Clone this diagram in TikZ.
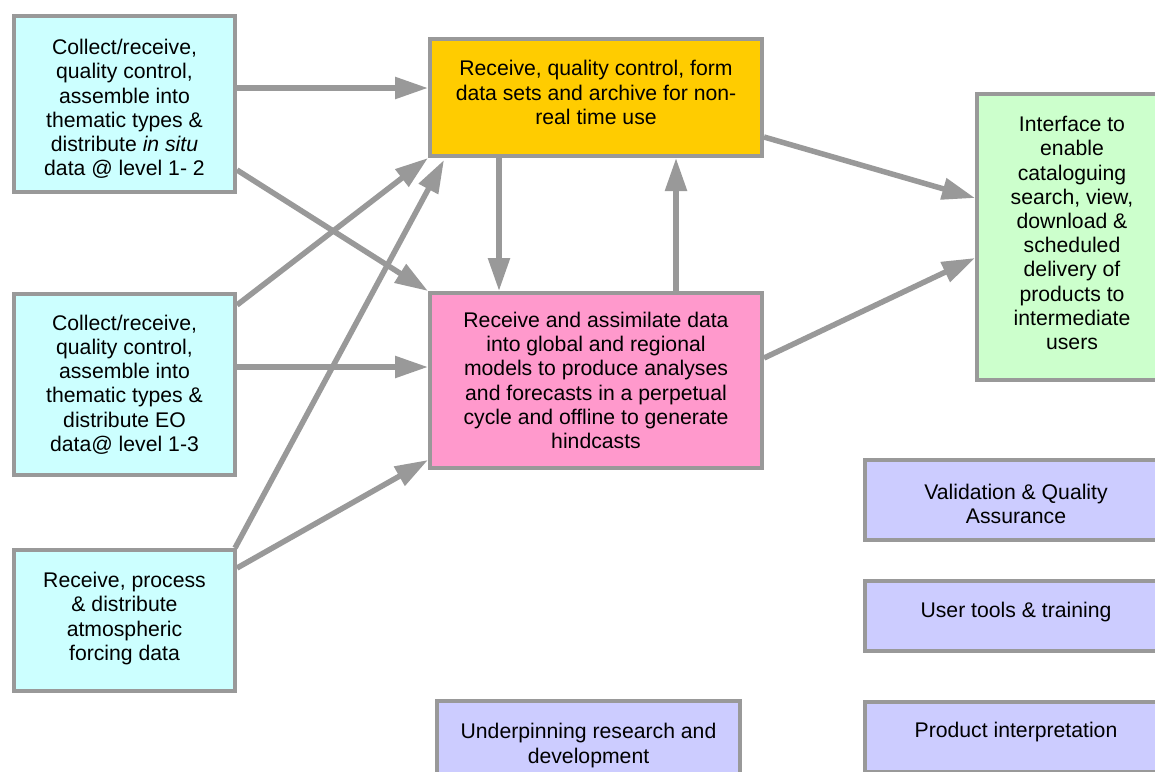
\documentclass[tikz,border=0pt]{standalone}
\usepackage{fontspec}
\setmainfont{Liberation Sans}
\usetikzlibrary{arrows.meta,calc}

\definecolor{edgegray}{HTML}{999999}
\definecolor{insitu}{HTML}{CCFFFF}
\definecolor{archive}{HTML}{FFCC00}
\definecolor{model}{HTML}{FF99CC}
\definecolor{iface}{HTML}{CCFFCC}
\definecolor{support}{HTML}{CCCCFF}

\tikzset{
  box/.style={draw=edgegray, line width=4pt, rectangle, inner sep=0pt},
  lbl/.style={align=center, inner sep=0pt, font=\fontsize{21.2}{24.2}\selectfont},
  % box with its caption, optionally moved up or down inside the frame
  boxtext/.style 2 args={label={[lbl, yshift=#1]center:{#2}}},
  flow/.style={draw=edgegray, line width=5.5pt,
    -{Triangle[length=33pt,width=21pt]}}
}

\begin{document}
\begin{tikzpicture}[x=1pt,y=-1pt]
  \fill[white] (0,0) rectangle (1155,771);
  \clip (0,0) rectangle (1155,771);
  \useasboundingbox (0,0) rectangle (1155,771);

  % data sources on the left
  \node[box, fill=insitu, minimum width=221pt, minimum height=176pt,
    boxtext={-5pt}{Collect/receive,\\quality control,\\assemble into\\thematic types \&\\distribute \textit{in situ}\\data @ level 1- 2}]
    (b1) at (124.5,104) {};
  \node[box, fill=insitu, minimum width=221pt, minimum height=181pt,
    boxtext={0pt}{Collect/receive,\\quality control,\\assemble into\\thematic types \&\\distribute EO\\data@ level 1-3}]
    (b2) at (124.5,384.5) {};
  \node[box, fill=insitu, minimum width=221pt, minimum height=141pt,
    boxtext={2pt}{Receive, process\\\& distribute\\atmospheric\\forcing data}]
    (b3) at (124.5,620.5) {};

  % central processing
  \node[box, fill=archive, minimum width=332pt, minimum height=117pt,
    boxtext={5pt}{Receive, quality control, form\\data sets and archive for non-\\real time use}]
    (arch) at (596,97.5) {};
  \node[box, fill=model, minimum width=332pt, minimum height=175pt,
    boxtext={0pt}{Receive and assimilate data\\into global and regional\\models to produce analyses\\and forecasts in a perpetual\\cycle and offline to generate\\hindcasts}]
    (mod) at (596,380.5) {};

  % user interface
  \node[box, fill=iface, minimum width=190pt, minimum height=286pt,
    boxtext={4pt}{Interface to\\enable\\cataloguing\\search, view,\\download \&\\scheduled\\delivery of\\products to\\intermediate\\users}]
    (ui) at (1072,237) {};

  % supporting activities
  \node[box, fill=support, minimum width=302pt, minimum height=80pt,
    boxtext={-4pt}{Validation \& Quality\\Assurance}]
    (val) at (1016,500) {};
  \node[box, fill=support, minimum width=302pt, minimum height=70pt,
    boxtext={4pt}{User tools \& training}]
    (tools) at (1016,616) {};
  \node[box, fill=support, minimum width=302pt, minimum height=70pt,
    boxtext={5pt}{Product interpretation}]
    (interp) at (1016,737) {};
  \node[box, fill=support, minimum width=303pt, minimum height=82pt,
    boxtext={-3.5pt}{Underpinning research and\\development}]
    (rd) at (588.5,742) {};

  % flows
  \draw[flow] ($(b1.north east)+(0,74)$) -- ($(arch.north west)+(0,51)$);
  \draw[flow] ($(b1.south east)+(0,-24)$) -- (mod.north west);
  \draw[flow] ($(b2.north east)+(0,13)$) -- (arch.south west);
  \draw[flow] ($(b2.north east)+(0,75)$) -- ($(mod.north west)+(0,76)$);
  \draw[flow] ($(b3.north east)+(-2,0)$) -- ($(arch.south west)+(16,2)$);
  \draw[flow] ($(b3.north east)+(0,20)$) -- ($(mod.south west)+(0,-10)$);
  \draw[flow] ($(arch.south west)+(71,0)$) -- ($(mod.north west)+(71,0)$);
  \draw[flow] ($(mod.north west)+(248,0)$) -- ($(arch.south west)+(248,0)$);
  \draw[flow] ($(arch.north east)+(0,100)$) -- ($(ui.north west)+(0,106)$);
  \draw[flow] ($(mod.north east)+(0,67)$) -- ($(ui.north west)+(0,166)$);
\end{tikzpicture}
\end{document}
